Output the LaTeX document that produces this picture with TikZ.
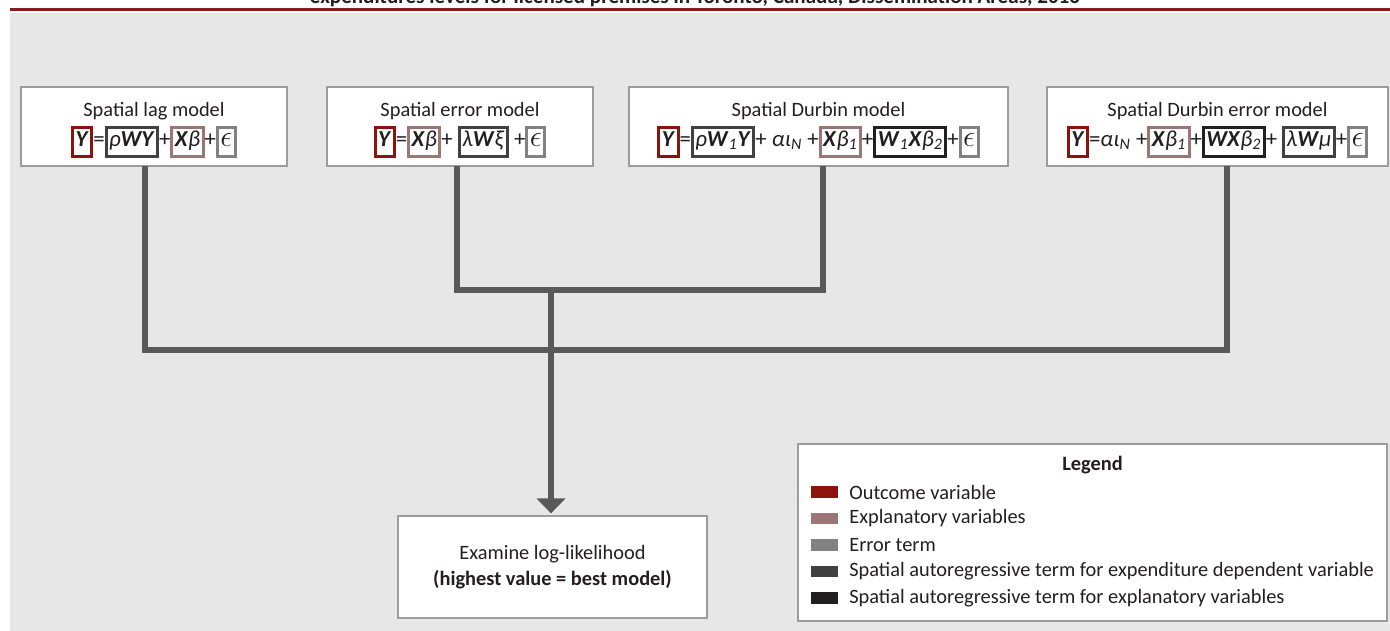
\documentclass[tikz,border=0pt]{standalone}
\usepackage{fontspec}
\setmainfont{Carlito}
\usetikzlibrary{arrows.meta,calc,positioning}
\definecolor{bgGrey}{HTML}{E6E7E6}
\definecolor{boxLine}{HTML}{9C9C9C}
\definecolor{titleRed}{HTML}{8A1B1D}
\definecolor{inkDark}{HTML}{231F20}
\definecolor{outc}{HTML}{8B130C}
\definecolor{expl}{HTML}{9B7674}
\definecolor{errc}{HTML}{828282}
\definecolor{sard}{HTML}{414141}
\definecolor{sarx}{HTML}{231F20}
\definecolor{linkGrey}{HTML}{595959}
% one framed term of a model equation
\newcommand{\trm}[2]{{\fboxrule=1.7pt\fboxsep=0.8pt\fcolorbox{#1}{white}{\strut #2}}}
\newcommand{\bi}[1]{\textbf{\textit{#1}}}
\newcommand{\sbi}[1]{\textsubscript{\textit{#1}}}
\newcommand{\eps}{{\fontsize{17}{13}\selectfont$\epsilon$}}
\begin{document}
\begin{tikzpicture}[x=0.02cm,y=-0.02cm,
  every node/.style={text=inkDark,font=\fontsize{11.6}{13}\selectfont},
  eqn/.style={font=\fontsize{13}{13.2}\selectfont},
  modelbox/.style={draw=boxLine,line width=0.8pt,fill=white,inner sep=0pt,outer sep=0pt,minimum height=1.58cm},
  link/.style={draw=linkGrey,line width=3.4pt},
  swatch/.style={fill=#1,minimum width=0.54cm,minimum height=0.24cm,inner sep=0pt}]%
\useasboundingbox (0,0) rectangle (1390,631);%
\clip (0,0) rectangle (1390,631);%
%
% page head (cut off at the top)
\node[anchor=base,font=\bfseries\fontsize{12}{13}\selectfont] (head) at (695,4) {expenditures levels for licensed premises in Toronto, Canada, Dissemination Areas, 2016};%
\fill[bgGrey] (10,13) rectangle (1390,631);%
\draw[titleRed,line width=2pt] (10,9.5) -- (1390,9.5);%
%
% the four models
\node[modelbox,minimum width=5.32cm] (lag) at (154,126.5) {};%
\node (lagT) at (154,111) {Spatial lag model};%
\node[eqn] (lagF) at (154,142) {\trm{outc}{\bi{Y}}=\trm{sard}{\textit{ρ}\bi{WY}}+\trm{expl}{\bi{X}\textit{β}}+\trm{errc}{\eps}};%
%
\node[modelbox,minimum width=5.32cm] (sem) at (460,126.5) {};%
\node (semT) at (460,111) {Spatial error model};%
\node[eqn] (semF) at (460,142) {\trm{outc}{\bi{Y}}=\trm{expl}{\bi{X}\textit{β}}+ \trm{sard}{\textit{λ}\bi{W}\textit{ξ}} +\trm{errc}{\eps}};%
%
\node[modelbox,minimum width=7.58cm] (sdm) at (818.5,126.5) {};%
\node (sdmT) at (818.5,111) {Spatial Durbin model};%
\node[eqn] (sdmF) at (818.5,142) {\trm{outc}{\bi{Y}}=\trm{sard}{\textit{ρ}\bi{W}\sbi{1}\bi{Y}}+ \textit{αι}\sbi{N} +\trm{expl}{\bi{X}\textit{β}\sbi{1}}+\trm{sarx}{\bi{W}\sbi{1}\bi{X}\textit{β}\sbi{2}}+\trm{errc}{\eps}};%
%
\node[modelbox,minimum width=6.82cm] (sdem) at (1217.5,126.5) {};%
\node (sdemT) at (1217.5,111) {Spatial Durbin error model};%
\node[eqn] (sdemF) at (1217.5,142) {\trm{outc}{\bi{Y}}=\textit{αι}\sbi{N} +\trm{expl}{\bi{X}\textit{β}\sbi{1}}+\trm{sarx}{\bi{WX}\textit{β}\sbi{2}}+ \trm{sard}{\textit{λ}\bi{W}\textit{μ}}+\trm{errc}{\eps}};%
%
% result
\node[modelbox,minimum width=6.18cm,minimum height=2.04cm,align=center] (res) at (552.5,567) {Examine log-likelihood\\[2pt]\textbf{(highest value = best model)}};%
%
% connectors
\coordinate (lagL) at ($(lag.south)+(-9,0)$);%
\coordinate (semL) at ($(sem.south)+(-3,0)$);%
\coordinate (sdmL) at ($(sdm.south)+(4.5,0)$);%
\coordinate (sdemL) at ($(sdem.south)+(9.5,0)$);%
\coordinate (jtop) at (551,290);%
\coordinate (jbot) at (551,350);%
\draw[link] (semL) |- (jtop) -| (sdmL);%
\draw[link] (lagL) |- (jbot) -| (sdemL);%
\draw[link,-{Triangle[width=16pt,length=8.5pt]},shorten >=1.5pt] (jtop) -- (jtop |- res.north);%
%
% legend
\node[modelbox,minimum width=11.78cm,minimum height=3.54cm] (legend) at (1092.5,532.5) {};%
\node[font=\bfseries\fontsize{11.6}{13}\selectfont] (legT) at (1092.5,465) {Legend};%
\foreach \c/\t [count=\i] in {outc/Outcome variable,expl/Explanatory variables,errc/Error term,sard/Spatial autoregressive term for expenditure dependent variable,sarx/Spatial autoregressive term for explanatory variables}{%
  \node[swatch=\c] (sw\i) at (824.5,{492+(\i-1)*26.5}) {};%
  \node[anchor=west,inner sep=0pt] (lt\i) at (849,{492+(\i-1)*26.5}) {\t};%
}%
\end{tikzpicture}
\end{document}
